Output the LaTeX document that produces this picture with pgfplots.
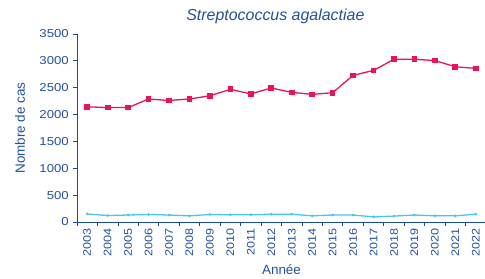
\documentclass[border=0pt]{standalone}
\usepackage{fontspec}
\setmainfont{Liberation Sans}
\newfontfamily\widefont[FakeStretch=1.15]{Liberation Sans}
\usepackage{pgfplots}
\pgfplotsset{compat=1.18}
\definecolor{txtblue}{RGB}{35,80,155}
\definecolor{axblue}{RGB}{25,75,155}
\definecolor{pinkline}{RGB}{232,20,90}
\definecolor{cyanline}{RGB}{70,200,230}
\begin{document}
\begin{tikzpicture}
\begin{axis}[
  at={(77bp,57bp)}, anchor=south west,
  scale only axis, width=409bp, height=188bp,
  xmin=-0.5, xmax=19.5, ymin=0, ymax=3500,
  axis x line*=bottom, axis y line*=left,
  axis line style={axblue, line width=0.9pt},
  ytick={0,500,...,3500},
  xtick={0,...,19},
  xticklabels={2003,2004,2005,2006,2007,2008,2009,2010,2011,2012,2013,2014,2015,2016,2017,2018,2019,2020,2021,2022},
  minor xtick={-0.5,0.5,...,19.5},
  major x tick style={draw=none},
  minor x tick style={axblue, line width=0.8pt},
  y tick style={axblue, line width=0.8pt},
  tick align=outside,
  major tick length=4bp, minor tick length=4bp,
  x tick label style={rotate=90, anchor=east, font=\widefont\fontsize{11}{12}\selectfont, text=txtblue, inner sep=2bp},
  y tick label style={font=\widefont\fontsize{11.5}{12}\selectfont, text=txtblue, inner sep=4bp},
  scaled y ticks=false,
  /pgf/number format/assume math mode=true,
  /pgf/number format/1000 sep={},
  title={\textit{Streptococcus agalactiae}},
  title style={font=\fontsize{16}{17}\selectfont, text=txtblue, at={(0.485,1)}, yshift=1bp},
  xlabel={Année}, ylabel={Nombre de cas},
  xlabel style={font=\fontsize{13.5}{14}\selectfont, text=txtblue, yshift=-3bp},
  ylabel style={font=\fontsize{13.5}{14}\selectfont, text=txtblue, yshift=7bp},
  clip=false,
]
\addplot[pinkline, line width=1.3pt, mark=square*, mark size=2.2bp, mark options={fill=pinkline, draw=pinkline}] coordinates {
(0,2145) (1,2130) (2,2130) (3,2290) (4,2262) (5,2290) (6,2350) (7,2470) (8,2385) (9,2495) (10,2413) (11,2376) (12,2407) (13,2730) (14,2822) (15,3030) (16,3030) (17,3005) (18,2890) (19,2860)};
\addplot[cyanline, line width=1.3pt, mark=*, mark size=0.6bp] coordinates {
(0,150) (1,120) (2,130) (3,140) (4,130) (5,115) (6,140) (7,135) (8,135) (9,145) (10,145) (11,115) (12,130) (13,130) (14,95) (15,110) (16,130) (17,115) (18,115) (19,145)};
\end{axis}
\pgfresetboundingbox
\useasboundingbox (0,0) rectangle (485bp,279bp);
\end{tikzpicture}
\end{document}
